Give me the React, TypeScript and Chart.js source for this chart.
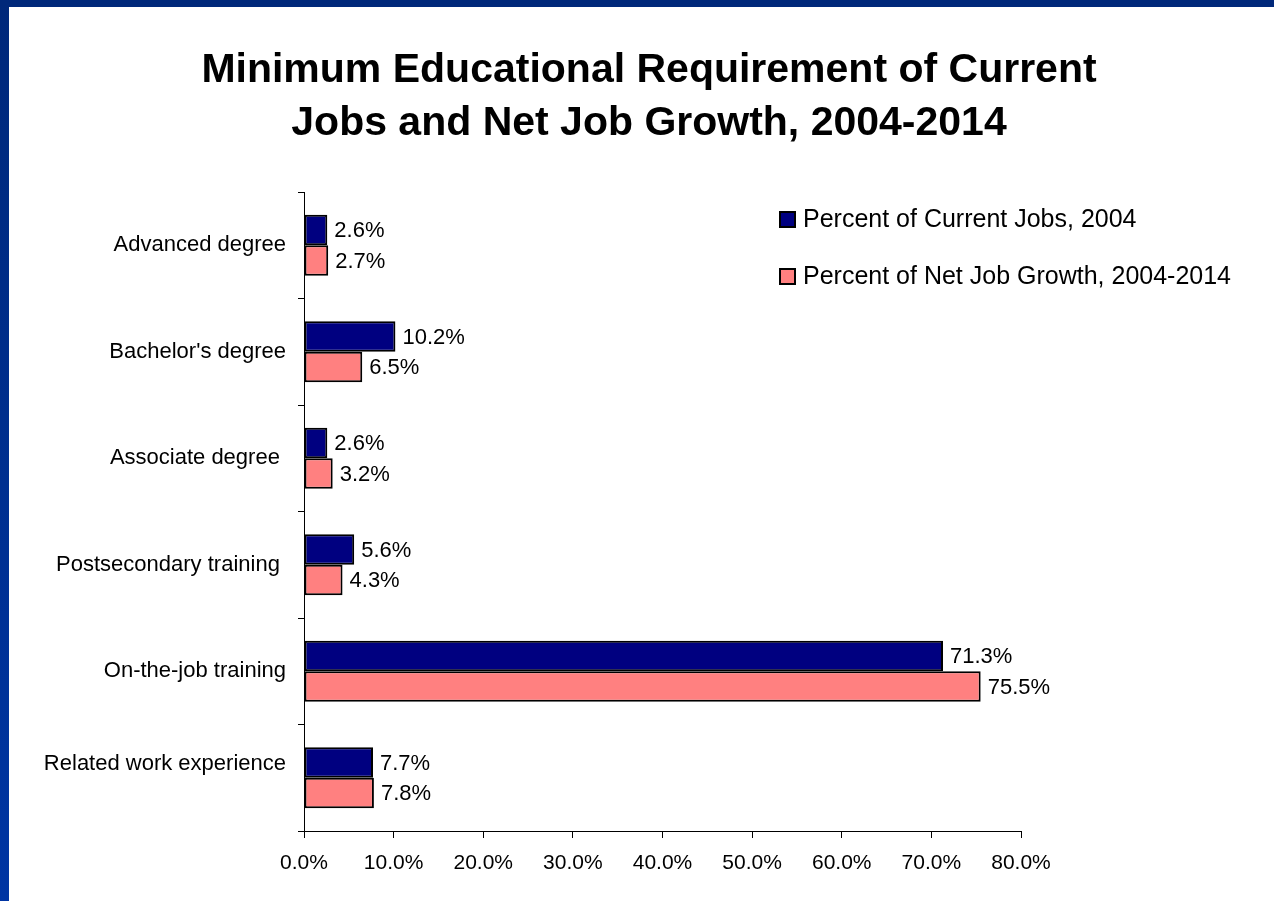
import React, { useEffect, useRef } from "react";
import { Chart, registerables } from "chart.js";

Chart.register(...registerables);

const TITLE_LINES = [
  "Minimum Educational Requirement of Current",
  "Jobs and Net Job Growth, 2004-2014",
];
const CATEGORIES: (string | string[])[] = [
  "Advanced degree",
  "Bachelor's degree",
  "Associate degree ",
  "Postsecondary training ",
  "On-the-job training",
  ["Related work experience", ""],
];
const SERIES_NAMES = [
  "Percent of Current Jobs, 2004",
  "Percent of Net Job Growth, 2004-2014",
];
const CURRENT_JOBS = [2.6, 10.2, 2.6, 5.6, 71.3, 7.7];
const JOB_GROWTH = [2.7, 6.5, 3.2, 4.3, 75.5, 7.8];
const X_TICKS = [0, 10, 20, 30, 40, 50, 60, 70, 80];

const FONT = "'Liberation Sans', Arial, sans-serif";
const COLORS = ["#000080", "#FF8080"];

const titlePlugin = {
  id: "customTitle",
  afterDraw(chart: any) {
    const ctx = chart.ctx;
    ctx.save();
    ctx.fillStyle = "#000";
    ctx.font = `bold 41px ${FONT}`;
    ctx.textAlign = "center";
    ctx.textBaseline = "alphabetic";
    TITLE_LINES.forEach((line, i) => {
      ctx.fillText(line, 640, 75 + i * 53);
    });
    ctx.restore();
  },
};

const legendPlugin = {
  id: "customLegend",
  afterDraw(chart: any) {
    const ctx = chart.ctx;
    ctx.save();
    ctx.font = `25px ${FONT}`;
    ctx.textBaseline = "middle";
    ctx.textAlign = "left";
    chart.data.datasets.forEach((ds: any, i: number) => {
      const cy = 213 + i * 57;
      ctx.fillStyle = ds.backgroundColor;
      ctx.fillRect(771, cy - 8, 15, 15);
      ctx.strokeStyle = "#000";
      ctx.lineWidth = 2;
      ctx.strokeRect(771, cy - 8, 15, 15);
      ctx.fillStyle = "#000";
      ctx.fillText(ds.label, 794, cy);
    });
    ctx.restore();
  },
};

const valueLabelPlugin = {
  id: "valueLabels",
  afterDatasetsDraw(chart: any) {
    const ctx = chart.ctx;
    ctx.save();
    ctx.font = `22px ${FONT}`;
    ctx.fillStyle = "#000";
    ctx.textBaseline = "middle";
    ctx.textAlign = "left";
    chart.data.datasets.forEach((ds: any, di: number) => {
      const meta = chart.getDatasetMeta(di);
      meta.data.forEach((bar: any, i: number) => {
        const v = ds.data[i] as number;
        ctx.fillText(v.toFixed(1) + "%", bar.x + 7, bar.y + 1);
      });
    });
    ctx.restore();
  },
};

export default function App() {
  const ref = useRef<HTMLCanvasElement | null>(null);

  useEffect(() => {
    if (!ref.current) return;
    const chart = new Chart(ref.current, {
      type: "bar",
      data: {
        labels: CATEGORIES,
        datasets: [
          {
            label: SERIES_NAMES[0],
            data: CURRENT_JOBS,
            backgroundColor: COLORS[0],
            borderColor: "#000",
            borderWidth: 2,
            borderSkipped: false,
          },
          {
            label: SERIES_NAMES[1],
            data: JOB_GROWTH,
            backgroundColor: COLORS[1],
            borderColor: "#000",
            borderWidth: 2,
            borderSkipped: false,
          },
        ],
      },
      options: {
        indexAxis: "y",
        responsive: false,
        animation: false,
        events: [],
        layout: { padding: { top: 185, right: 253, left: 0, bottom: 0 } },
        datasets: {
          bar: { categoryPercentage: 0.575, barPercentage: 1 },
        },
        plugins: {
          legend: { display: false },
          title: { display: false },
          tooltip: { enabled: false },
        },
        scales: {
          x: {
            type: "linear",
            min: 0,
            max: 80,
            afterBuildTicks(scale: any) {
              scale.ticks = X_TICKS.map((v) => ({ value: v }));
            },
            afterFit(scale: any) {
              scale.height = 70;
            },
            ticks: {
              color: "#000",
              font: { family: FONT, size: 21 },
              padding: 13,
              maxRotation: 0,
              callback: (v: any) => Number(v).toFixed(1) + "%",
            },
            grid: {
              drawOnChartArea: false,
              drawTicks: true,
              tickLength: 7,
              tickColor: "#000",
              lineWidth: 1,
            },
            border: { display: true, color: "#000", width: 1 },
          },
          y: {
            type: "category",
            afterFit(scale: any) {
              scale.width = 295;
            },
            ticks: {
              color: "#000",
              font: { family: FONT, size: 22, lineHeight: 1.27 },
              padding: 12,
            },
            grid: {
              offset: true,
              drawOnChartArea: false,
              drawTicks: true,
              tickLength: 6,
              tickColor: "#000",
              lineWidth: 1,
            },
            border: { display: true, color: "#000", width: 1 },
          },
        },
      },
      plugins: [titlePlugin, legendPlugin, valueLabelPlugin],
    } as any);
    return () => chart.destroy();
  }, []);

  return (
    <div
      style={{
        position: "fixed",
        left: 0,
        top: 0,
        width: 1274,
        height: 901,
        background: "linear-gradient(to bottom, #00287a, #0035a3)",
        overflow: "hidden",
      }}
    >
      <div
        style={{
          position: "absolute",
          left: 9,
          top: 7,
          width: 1265,
          height: 894,
          background: "#fff",
        }}
      >
        <canvas ref={ref} width={1265} height={894} style={{ display: "block" }} />
      </div>
    </div>
  );
}
